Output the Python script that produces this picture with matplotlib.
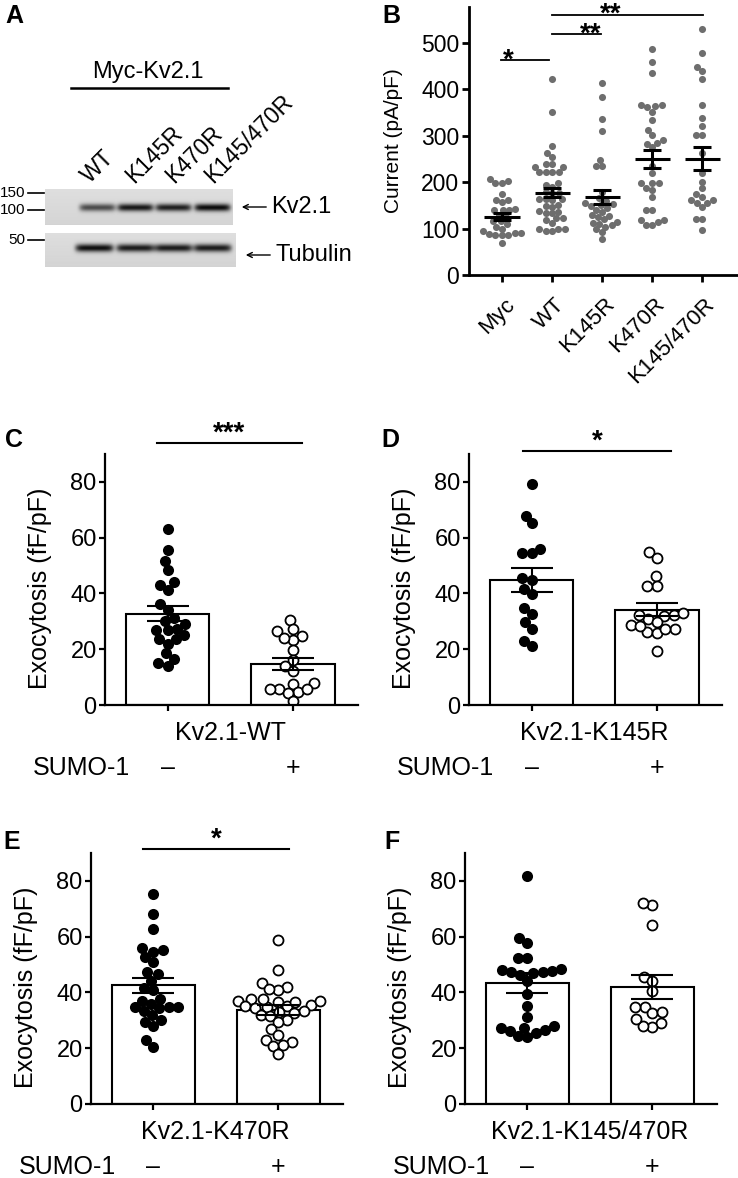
import numpy as np
import matplotlib
matplotlib.use('Agg')
import matplotlib.pyplot as plt
from matplotlib.lines import Line2D
from matplotlib.patches import FancyArrowPatch

plt.rcParams['font.family'] = ['Liberation Sans', 'DejaVu Sans']

# ---- data ----
# panel A: blot band strength per lane (WT, K145R, K470R, K145/470R)
blot_lanes = ['WT', 'K145R', 'K470R', 'K145/470R']
kv_band = [0.55, 0.75, 0.72, 0.80]
tub_band = [0.80, 0.75, 0.75, 0.75]
mw_labels = ['150', '100', '50']

# panel B: current density (pA/pF)
b_groups = ['Myc', 'WT', 'K145R', 'K470R', 'K145/470R']
b_myc = [207, 202, 199, 199, 174, 161, 161, 158, 143, 141, 141, 141, 130, 125,
         117, 117, 110, 104, 100, 95, 90, 90, 88, 86, 86, 86, 68]
b_wt = [421, 352, 278, 262, 253, 238, 238, 233, 233, 222, 222, 222, 222, 197,
        194, 190, 179, 176, 176, 163, 163, 161, 163, 151, 149, 147, 136, 133,
        138, 133, 122, 122, 118, 111, 100, 100, 100, 95, 95]
b_k145 = [414, 384, 335, 310, 248, 235, 235, 178, 165, 160, 155, 152, 150, 148,
          145, 140, 135, 130, 128, 125, 120, 115, 112, 110, 108, 104, 98, 92, 78]
b_k470 = [486, 459, 434, 366, 366, 364, 361, 352, 334, 312, 301, 290, 285, 283,
          275, 235, 219, 197, 197, 197, 187, 183, 169, 140, 140, 118, 118, 115,
          108, 108]
b_k145470 = [529, 477, 448, 439, 423, 367, 337, 321, 301, 301, 262, 219, 201,
             187, 174, 167, 161, 161, 154, 154, 146, 120, 120, 97]
b_mean = [125, 177, 168, 250, 250]
b_sem = [7.5, 10, 14.5, 19.5, 25]

# panels C-F: exocytosis (fF/pF), SUMO-1 minus / plus
c_minus = [63.1, 55.6, 51.8, 48.5, 43.2, 44, 41.4, 36.3, 34.2, 31.3, 29.2, 30.1,
           26.8, 25.2, 23.6, 22, 23.8, 26.8, 27.4, 18.5, 16.5, 14, 14.9]
c_plus = [30.6, 24.6, 23.2, 26.4, 27.4, 24, 19.6, 16.1, 14, 12.3, 7.7, 8, 5.6,
          4.8, 4.4, 5.6, 5.6, 1.4]
c_mean = [32.8, 14.7]
c_sem = [2.7, 2.3]

d_minus = [79.3, 67.8, 65.1, 54.6, 54.6, 56.1, 45.4, 44.8, 41.6, 39.8, 34.9,
           32.7, 29.7, 27.2, 22.8, 21]
d_plus = [54.9, 52.8, 46.2, 42.8, 42.8, 30.9, 32.3, 31.9, 32.1, 32.9, 29.7,
          28.7, 27.3, 26.1, 25.7, 27.2, 28.4, 19.2]
d_mean = [44.8, 34.1]
d_sem = [4.3, 2.3]

e_minus = [75.4, 68.3, 62.9, 56, 54.6, 55.2, 52.8, 51, 46.5, 47.2, 44.2, 41.5,
           40.9, 37.7, 35.9, 34.7, 34.3, 34.7, 34.9, 37.1, 33.5, 31.9, 29.3,
           28, 30.2, 22.8, 20.6]
e_plus = [58.8, 48, 43.5, 42, 41, 41.2, 37, 36.5, 35.5, 35, 34.7, 37.7, 37.1,
          37.7, 36.5, 35, 34.5, 33.5, 32.5, 32, 31.5, 33, 30.2, 29.5, 27, 24.8,
          23, 22.1, 21.3, 20.8, 17.9]
e_mean = [42.5, 33.8]
e_sem = [2.7, 1.8]

f_minus = [81.6, 59.4, 57.8, 52.2, 52.2, 48, 47.4, 46.2, 46.8, 47.2, 47.8, 48.3,
           44.1, 39.3, 35.3, 31.3, 27.4, 26.6, 25.4, 24.2, 24.4, 26, 27.2, 27.8]
f_plus = [71.3, 71.9, 64.1, 45.6, 44.1, 40.6, 34.9, 34.9, 32.8, 32.9, 29, 27.5,
          27.9, 30.4]
f_mean = [43.5, 42.0]
f_sem = [3.6, 4.2]

W, H = 738, 1178
fig = plt.figure(figsize=(W / 100, H / 100), dpi=100)


def fx(x):
    return x / W


def fy(y):
    return 1 - y / H


def swarm_offsets(values, ax, diam):
    # simple beeswarm in pixel space
    x0, x1 = ax.get_xlim()
    y0, y1 = ax.get_ylim()
    sx = ax.bbox.width / (x1 - x0)
    sy = ax.bbox.height / (y1 - y0)
    ys = np.asarray(values, float) * sy
    offs = np.zeros(len(ys))
    placed = []
    for i in np.argsort(ys):
        y = ys[i]
        near = [(px, py) for px, py in placed if abs(py - y) < diam]
        cands = [0.0]
        for px, py in near:
            dx = np.sqrt(diam ** 2 - (py - y) ** 2)
            cands += [px - dx, px + dx]
        cands.sort(key=abs)
        for c in cands:
            if all((c - px) ** 2 + (y - py) ** 2 >= diam ** 2 - 1e-6 for px, py in near):
                offs[i] = c / sx
                placed.append((c, y))
                break
    return offs


def style_axes(ax, lw, ticklen, fs):
    for s in ['top', 'right']:
        ax.spines[s].set_visible(False)
    for s in ['left', 'bottom']:
        ax.spines[s].set_linewidth(lw)
    ax.tick_params(width=lw, length=ticklen, labelsize=fs, pad=2)


# ---- panel A ----
fig.text(fx(5), fy(16), 'A', fontsize=18, fontweight='bold', va='center')
fig.text(fx(148), fy(72), 'Myc-Kv2.1', ha='center', va='center', fontsize=17)
fig.add_artist(Line2D([fx(71), fx(228)], [fy(88), fy(88)], color='k', lw=1.8))
for lx, name in zip([90, 134, 174, 213], blot_lanes):
    fig.text(fx(lx), fy(184), name, rotation=45, rotation_mode='anchor',
             ha='left', va='baseline', fontsize=16.5)


def blot(h, w, lane_x, band_y, sig, half_w, ints):
    yy, xx = np.mgrid[0:h, 0:w]
    img = np.full((h, w), 0.87) - 0.04 * yy / h
    for lx, a in zip(lane_x, ints):
        img -= a * np.exp(-((yy - band_y) / sig) ** 2) * np.exp(-((xx - lx) / half_w) ** 8)
    return np.clip(img, 0, 1)


ax_b1 = fig.add_axes([fx(45), fy(225), 188 / W, 36 / H])
ax_b1.imshow(blot(36, 188, [52, 90, 128, 167], 18, 3.8, 18, kv_band),
             cmap='gray', vmin=0, vmax=1, aspect='auto', interpolation='bilinear')
ax_b1.axis('off')
ax_b2 = fig.add_axes([fx(45), fy(267), 191 / W, 34 / H])
ax_b2.imshow(blot(34, 191, [49, 90, 128, 167], 15, 3.8, 19, tub_band),
             cmap='gray', vmin=0, vmax=1, aspect='auto', interpolation='bilinear')
ax_b2.axis('off')

for lab, y in zip(mw_labels, [193, 210, 240]):
    fig.text(fx(25), fy(y), lab, ha='right', va='center', fontsize=11)
    fig.add_artist(Line2D([fx(28), fx(44)], [fy(y), fy(y)], color='k', lw=1.2))

for y0, x_head, x_tail, name in [(207, 239, 269, 'Kv2.1'), (255, 243, 273, 'Tubulin')]:
    fig.add_artist(FancyArrowPatch((fx(x_tail), fy(y0)), (fx(x_head), fy(y0)),
                                   transform=fig.transFigure, arrowstyle='->',
                                   mutation_scale=9, lw=1.0, color='k'))
    fig.text(fx(x_tail + 2), fy(y0), name, ha='left', va='center', fontsize=17)

# ---- panel B ----
fig.text(fx(382), fy(16), 'B', fontsize=18, fontweight='bold', va='center')
axB = fig.add_axes([fx(469), fy(275), (738 - 469) / W, 268 / H])
axB.set_xlim(-0.66, 4.72)
axB.set_ylim(0, 577)
style_axes(axB, 2.0, 5, 16.5)
axB.set_yticks([0, 100, 200, 300, 400, 500])
axB.set_xticks(range(5))
axB.set_xticklabels([])
axB.set_ylabel('Current (pA/pF)', fontsize=15)
axB.yaxis.set_label_coords(-0.245, 0.5)
for i, vals in enumerate([b_myc, b_wt, b_k145, b_k470, b_k145470]):
    offs = swarm_offsets(vals, axB, 6.5)
    axB.scatter(i + offs, vals, s=26, color='#6e6e6e', lw=0, zorder=2)
    axB.hlines(b_mean[i], i - 0.35, i + 0.35, color='k', lw=2.2, zorder=3)
    axB.errorbar(i, b_mean[i], yerr=b_sem[i], fmt='none', ecolor='k',
                 elinewidth=2.2, capsize=6.5, capthick=2.2, zorder=3)
    axB.text(i + 0.04, -0.07, b_groups[i], transform=axB.get_xaxis_transform(),
             rotation=45, rotation_mode='anchor', ha='right', va='top', fontsize=16)
for x0, x1, y, star, sx, sy in [(-0.02, 0.94, 463, '*', 0.12, 446),
                                (1.0, 1.98, 519, '**', 1.78, 503),
                                (1.0, 4.02, 560, '**', 2.18, 545)]:
    axB.plot([x0, x1], [y, y], color='k', lw=1.3, clip_on=False)
    axB.text(sx, sy, star, ha='center', va='baseline', fontsize=20,
             fontweight='bold', clip_on=False)


# ---- panels C-F ----
def exo_panel(letter, letter_pos, left, right, bottom, minus, plus, mean, sem,
              name, sig=None):
    fig.text(fx(letter_pos[0]), fy(letter_pos[1]), letter, fontsize=18,
             fontweight='bold', va='center')
    ax = fig.add_axes([fx(left), fy(bottom), (right - left) / W, 251 / H])
    ax.set_xlim(-0.5, 1.52)
    ax.set_ylim(0, 90)
    style_axes(ax, 1.6, 4, 17)
    ax.set_yticks([0, 20, 40, 60, 80])
    ax.set_xticks([0, 1])
    ax.set_xticklabels([])
    ax.set_ylabel('Exocytosis (fF/pF)', fontsize=18)
    ax.yaxis.set_label_coords(-0.21, 0.465)
    ax.bar([0, 1], mean, width=0.667, color='white', edgecolor='k', lw=1.5, zorder=1)
    off0 = swarm_offsets(minus, ax, 9.5)
    off1 = swarm_offsets(plus, ax, 9.5)
    ax.scatter(0 + off0, minus, s=64, color='k', lw=0, zorder=2)
    ax.scatter(1 + off1, plus, s=52, facecolor='white', edgecolor='k', lw=1.3, zorder=2)
    ax.errorbar([0, 1], mean, yerr=sem, fmt='none', ecolor='k', elinewidth=1.5,
                capsize=15, capthick=1.5, zorder=3)
    tr = ax.get_xaxis_transform()
    ax.text(0.5, -0.112, name, transform=tr, ha='center', va='center', fontsize=18)
    ax.text(-0.3, -0.251, 'SUMO-1', transform=tr, ha='right', va='center', fontsize=18)
    ax.text(0, -0.251, '–', transform=tr, ha='center', va='center', fontsize=18)
    ax.text(1, -0.251, '+', transform=tr, ha='center', va='center', fontsize=18)
    if sig:
        x0, x1, y, star = sig
        ax.plot([x0, x1], [y, y], color='k', lw=1.5, clip_on=False)
        ax.text((x0 + x1) / 2, y + 0.8, star, ha='center', va='baseline',
                fontsize=20, fontweight='bold', clip_on=False)
    return ax


exo_panel('C', (5, 440), 105, 358, 705, c_minus, c_plus, c_mean, c_sem,
          'Kv2.1-WT', (-0.087, 1.07, 94, '***'))
exo_panel('D', (381, 440), 469, 722, 705, d_minus, d_plus, d_mean, d_sem,
          'Kv2.1-K145R', (-0.065, 1.11, 91, '*'))
exo_panel('E', (3, 842), 91, 343, 1104, e_minus, e_plus, e_mean, e_sem,
          'Kv2.1-K470R', (-0.08, 1.09, 91.4, '*'))
exo_panel('F', (384, 842), 465, 717, 1104, f_minus, f_plus, f_mean, f_sem,
          'Kv2.1-K145/470R')

fig.savefig('out.png', dpi=100)
